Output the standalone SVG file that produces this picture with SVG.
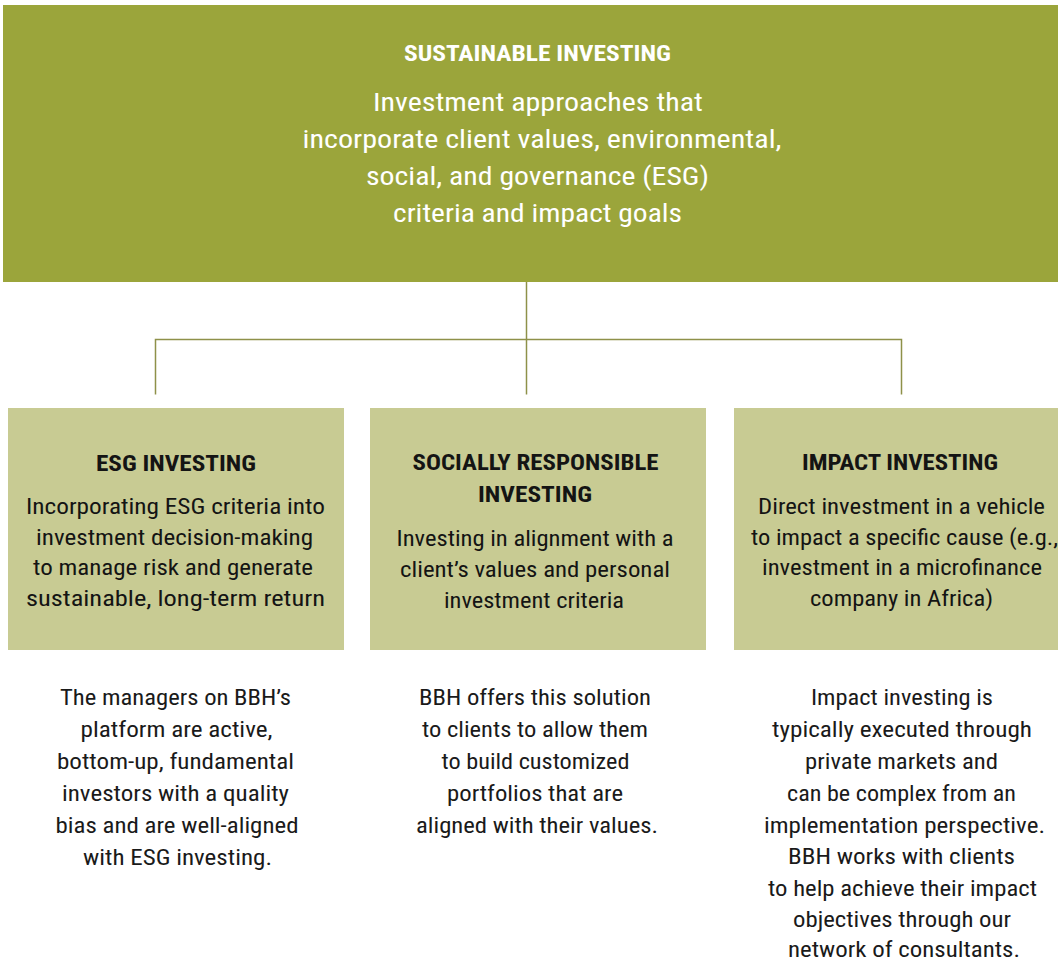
<svg xmlns="http://www.w3.org/2000/svg" width="1058" height="961" viewBox="0 0 1058 961">
  <style>
    text { font-family: "Liberation Sans Narrow", "Roboto Condensed", "DejaVu Sans Condensed", Roboto, "Liberation Sans", sans-serif; text-anchor: middle; }
    .head { fill: #9ba53b; }
    .box { fill: #c8cb93; }
    .white { fill: #ffffff; }
    .dark { fill: #141414; }
    .title-top { font-size: 22.5px; font-weight: bold; }
    .lead { font-size: 26.5px; }
    .title { font-size: 22px; font-weight: bold; }
    .body { font-size: 22.5px; }
    .note { font-size: 21.5px; fill: #1a1a1a; }
    .link { stroke: #8e9149; stroke-width: 1.5; fill: none; }
  </style>

  <!-- root concept -->
  <g id="node-sustainable">
    <rect class="head" x="3" y="5" width="1055" height="277"/>
    <text class="white title-top" x="537.5" y="61" textLength="267" lengthAdjust="spacingAndGlyphs">SUSTAINABLE INVESTING</text>
    <text class="white lead" x="538" y="111" textLength="330" lengthAdjust="spacingAndGlyphs">Investment approaches that</text>
    <text class="white lead" x="542" y="148" textLength="479" lengthAdjust="spacingAndGlyphs">incorporate client values, environmental,</text>
    <text class="white lead" x="537.5" y="185" textLength="343" lengthAdjust="spacingAndGlyphs">social, and governance (ESG)</text>
    <text class="white lead" x="537.5" y="222" textLength="289" lengthAdjust="spacingAndGlyphs">criteria and impact goals</text>
  </g>

  <!-- tree connectors -->
  <g id="connectors">
    <path class="link" d="M526.5 282 V394.5"/>
    <path class="link" d="M155.5 394.5 V339.5 H901.5 V394.5"/>
  </g>

  <!-- ESG investing -->
  <g id="node-esg">
    <rect class="box" x="8" y="408" width="336" height="242"/>
    <text class="dark title" x="176" y="471" textLength="160" lengthAdjust="spacingAndGlyphs">ESG INVESTING</text>
    <text class="dark body" x="175.5" y="514" textLength="299" lengthAdjust="spacingAndGlyphs">Incorporating ESG criteria into</text>
    <text class="dark body" x="174.5" y="545" textLength="277" lengthAdjust="spacingAndGlyphs">investment decision-making</text>
    <text class="dark body" x="173" y="575" textLength="280" lengthAdjust="spacingAndGlyphs">to manage risk and generate</text>
    <text class="dark body" x="175.5" y="606" textLength="299" lengthAdjust="spacingAndGlyphs">sustainable, long-term return</text>
  </g>

  <!-- Socially responsible investing -->
  <g id="node-sri">
    <rect class="box" x="370" y="408" width="336" height="242"/>
    <text class="dark title" x="535.5" y="470" textLength="246" lengthAdjust="spacingAndGlyphs">SOCIALLY RESPONSIBLE</text>
    <text class="dark title" x="535" y="502" textLength="114" lengthAdjust="spacingAndGlyphs">INVESTING</text>
    <text class="dark body" x="535" y="546" textLength="277" lengthAdjust="spacingAndGlyphs">Investing in alignment with a</text>
    <text class="dark body" x="535" y="577" textLength="270" lengthAdjust="spacingAndGlyphs">client’s values and personal</text>
    <text class="dark body" x="534" y="608" textLength="180" lengthAdjust="spacingAndGlyphs">investment criteria</text>
  </g>

  <!-- Impact investing -->
  <g id="node-impact">
    <rect class="box" x="734" y="408" width="324" height="242"/>
    <text class="dark title" x="900" y="470" textLength="196" lengthAdjust="spacingAndGlyphs">IMPACT INVESTING</text>
    <text class="dark body" x="901.5" y="514" textLength="287" lengthAdjust="spacingAndGlyphs">Direct investment in a vehicle</text>
    <text class="dark body" x="751" y="545" textLength="307" lengthAdjust="spacingAndGlyphs" style="text-anchor:start">to impact a specific cause (e.g.,</text>
    <text class="dark body" x="902" y="575" textLength="280" lengthAdjust="spacingAndGlyphs">investment in a microfinance</text>
    <text class="dark body" x="901.5" y="606" textLength="183" lengthAdjust="spacingAndGlyphs">company in Africa)</text>
  </g>

  <!-- notes under each approach -->
  <g id="note-esg">
    <text class="note" x="175.5" y="705" textLength="231" lengthAdjust="spacingAndGlyphs">The managers on BBH’s</text>
    <text class="note" x="176.5" y="737" textLength="192" lengthAdjust="spacingAndGlyphs">platform are active,</text>
    <text class="note" x="175.5" y="769" textLength="237" lengthAdjust="spacingAndGlyphs">bottom-up, fundamental</text>
    <text class="note" x="175.5" y="801" textLength="227" lengthAdjust="spacingAndGlyphs">investors with a quality</text>
    <text class="note" x="177" y="833" textLength="243" lengthAdjust="spacingAndGlyphs">bias and are well-aligned</text>
    <text class="note" x="177.5" y="865" textLength="189" lengthAdjust="spacingAndGlyphs">with ESG investing.</text>
  </g>

  <g id="note-sri">
    <text class="note" x="535" y="705" textLength="232" lengthAdjust="spacingAndGlyphs">BBH offers this solution</text>
    <text class="note" x="535" y="737" textLength="226" lengthAdjust="spacingAndGlyphs">to clients to allow them</text>
    <text class="note" x="535.5" y="769" textLength="188" lengthAdjust="spacingAndGlyphs">to build customized</text>
    <text class="note" x="535" y="801" textLength="176" lengthAdjust="spacingAndGlyphs">portfolios that are</text>
    <text class="note" x="537" y="833" textLength="242" lengthAdjust="spacingAndGlyphs">aligned with their values.</text>
  </g>

  <g id="note-impact">
    <text class="note" x="902" y="705" textLength="182" lengthAdjust="spacingAndGlyphs">Impact investing is</text>
    <text class="note" x="902" y="737" textLength="260" lengthAdjust="spacingAndGlyphs">typically executed through</text>
    <text class="note" x="901.5" y="769" textLength="193" lengthAdjust="spacingAndGlyphs">private markets and</text>
    <text class="note" x="901.5" y="801" textLength="229" lengthAdjust="spacingAndGlyphs">can be complex from an</text>
    <text class="note" x="904.5" y="833" textLength="281" lengthAdjust="spacingAndGlyphs">implementation perspective.</text>
    <text class="note" x="901.5" y="864" textLength="227" lengthAdjust="spacingAndGlyphs">BBH works with clients</text>
    <text class="note" x="902.5" y="896" textLength="269" lengthAdjust="spacingAndGlyphs">to help achieve their impact</text>
    <text class="note" x="902" y="927" textLength="218" lengthAdjust="spacingAndGlyphs">objectives through our</text>
    <text class="note" x="904" y="957" textLength="232" lengthAdjust="spacingAndGlyphs">network of consultants.</text>
  </g>
</svg>
